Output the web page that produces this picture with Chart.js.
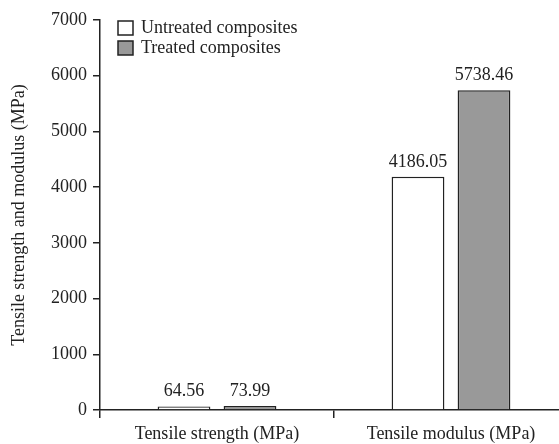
<!DOCTYPE html>
<html>
<head>
<meta charset="utf-8">
<script src="https://cdn.jsdelivr.net/npm/chart.js@4.4.0/dist/chart.umd.min.js"></script>
<style>
  html, body { margin: 0; padding: 0; background: #fff; }
  /* the plot runs a little past the right edge, as in the original figure */
  #wrap { width: 559px; height: 444px; overflow: hidden; }
</style>
</head>
<body>
<div id="wrap"><canvas id="myChart" width="568" height="444"></canvas></div>
<script>
// Chart data
const categories = ['Tensile strength (MPa)', 'Tensile modulus (MPa)'];
const untreated = [64.56, 4186.05];
const treated = [73.99, 5738.46];
const seriesNames = ['Untreated composites', 'Treated composites'];
const yTicks = [0, 1000, 2000, 3000, 4000, 5000, 6000, 7000];

const serif = 'Liberation Serif, Times New Roman, serif';
const ink = '#222';

// value labels above each bar
const valueLabels = {
    id: 'valueLabels',
    afterDatasetsDraw(chart) {
        const ctx = chart.ctx;
        ctx.save();
        ctx.font = '18px ' + serif;
        ctx.fillStyle = ink;
        ctx.textAlign = 'center';
        ctx.textBaseline = 'alphabetic';
        chart.data.datasets.forEach((ds, i) => {
            chart.getDatasetMeta(i).data.forEach((bar, j) => {
                ctx.fillText(ds.data[j].toFixed(2), bar.x, bar.y - 10);
            });
        });
        ctx.restore();
    }
};

// legend drawn inside the plot, top left
const innerLegend = {
    id: 'innerLegend',
    afterDraw(chart) {
        const ctx = chart.ctx;
        const area = chart.chartArea;
        ctx.save();
        ctx.font = '18px ' + serif;
        ctx.textBaseline = 'middle';
        chart.data.datasets.forEach((ds, i) => {
            const x = area.left + 18;
            const y = area.top + 1 + i * 20;
            ctx.fillStyle = ds.backgroundColor;
            ctx.fillRect(x, y, 15, 14);
            ctx.strokeStyle = ink;
            ctx.lineWidth = 1.5;
            ctx.strokeRect(x, y, 15, 14);
            ctx.fillStyle = ink;
            ctx.fillText(ds.label, x + 23, y + 7);
        });
        ctx.restore();
    }
};

const data = {
    labels: categories,
    datasets: [{
        label: seriesNames[0],
        data: untreated,
        backgroundColor: '#ffffff',
        borderColor: ink,
        borderWidth: 1.5,
    }, {
        label: seriesNames[1],
        data: treated,
        backgroundColor: '#999999',
        borderColor: ink,
        borderWidth: 1.5,
    }]
};

const config = {
    type: 'bar',
    data: data,
    plugins: [valueLabels, innerLegend],
    options: {
        responsive: false,
        animation: false,
        categoryPercentage: 0.564,
        barPercentage: 0.8,
        layout: { padding: { top: 20, left: 0, right: 0, bottom: 0 } },
        plugins: {
            legend: { display: false },
            tooltip: { enabled: false }
        },
        scales: {
            x: {
                grid: {
                    offset: true,
                    drawOnChartArea: false,
                    color: ink,
                    lineWidth: 1.5,
                    tickLength: 8
                },
                border: { color: ink, width: 1.5 },
                ticks: {
                    color: ink,
                    font: { family: serif, size: 18 },
                    padding: 5,
                    maxRotation: 0
                },
                afterFit(scale) { scale.height = 34; }
            },
            y: {
                min: 0,
                max: 7000,
                afterBuildTicks(scale) {
                    scale.ticks = yTicks.map(v => ({ value: v }));
                },
                grid: {
                    drawOnChartArea: false,
                    color: ink,
                    lineWidth: 1.5,
                    tickLength: 7
                },
                border: { color: ink, width: 1.5 },
                ticks: {
                    color: ink,
                    font: { family: serif, size: 18 },
                    padding: 6,
                    callback: v => String(v)
                },
                title: {
                    display: true,
                    text: 'Tensile strength and modulus (MPa)',
                    color: ink,
                    font: { family: serif, size: 18 },
                    padding: { top: 8, bottom: 0 }
                },
                afterFit(scale) { scale.width = 100; }
            }
        }
    }
};

const myChart = new Chart(
    document.getElementById('myChart'),
    config
);
</script>
</body>
</html>
